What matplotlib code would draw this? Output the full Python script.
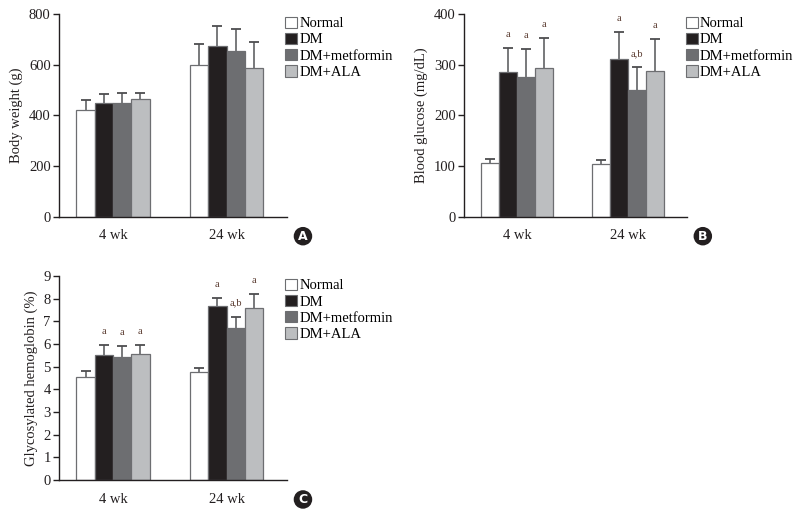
import numpy as np
import matplotlib.pyplot as plt
from matplotlib.patches import Patch

plt.rcParams['font.family'] = ['Liberation Serif', 'DejaVu Serif']

groups = ['4 wk', '24 wk']
series = ['Normal', 'DM', 'DM+metformin', 'DM+ALA']
colors = ['#ffffff', '#231f20', '#6d6e71', '#bcbec0']

# body weight (g)
bw_mean = [[420, 600], [450, 672], [450, 655], [463, 588]]
bw_err = [[40, 80], [35, 80], [38, 85], [24, 102]]

# blood glucose (mg/dL)
bg_mean = [[107, 105], [285, 312], [275, 251], [294, 288]]
bg_err = [[8, 7], [48, 52], [55, 44], [58, 62]]
bg_note = [['', ''], ['a', 'a'], ['a', 'a,b'], ['a', 'a']]

# glycosylated hemoglobin (%)
hb_mean = [[4.55, 4.78], [5.50, 7.68], [5.45, 6.70], [5.55, 7.57]]
hb_err = [[0.27, 0.16], [0.47, 0.35], [0.47, 0.50], [0.42, 0.65]]
hb_note = [['', ''], ['a', 'a'], ['a', 'a,b'], ['a', 'a']]

fig = plt.figure(figsize=(8, 5.14), dpi=100)

axA = fig.add_axes([0.07375, 0.578, 0.285, 0.395])
axB = fig.add_axes([0.58, 0.578, 0.279, 0.395])
axC = fig.add_axes([0.07375, 0.066, 0.285, 0.397])

w = 0.161
x = np.arange(len(groups))


def panel(ax, mean, err, note, ymax, ystep, ylabel, letter):
    for i in range(len(series)):
        pos = x - 1.5 * w + i * w
        top = np.array(mean[i]) + np.array(err[i])
        ax.bar(pos, mean[i], w, color=colors[i], edgecolor='#6d6e71',
               linewidth=0.9, zorder=2)
        ax.vlines(pos, mean[i], top, color='#6d6e71', linewidth=1.3, zorder=3)
        ax.plot(pos, top, ls='none', marker='_', ms=7, mew=1.3,
                color='#4d4d4f', zorder=3)
        if note is not None:
            for j in range(len(groups)):
                if note[i][j]:
                    ax.text(pos[j], top[j] + ymax * 0.045, note[i][j],
                            ha='center', va='bottom', fontsize=7.5,
                            color='#5a3b30')
    ticks = np.arange(0, ymax + ystep / 2, ystep)
    ax.set_xlim(-0.476, 1.533)
    ax.set_ylim(0, ymax)
    ax.set_yticks(ticks)
    ax.set_yticklabels(['%d' % v for v in ticks])
    ax.set_xticks(x)
    ax.set_xticklabels(groups)
    ax.tick_params(axis='x', length=0, pad=9, labelsize=10.5, colors='#231f20')
    ax.tick_params(axis='y', length=4, width=1, direction='out',
                   labelsize=10.5, colors='#231f20', pad=2)
    for s in ['top', 'right']:
        ax.spines[s].set_visible(False)
    for s in ['left', 'bottom']:
        ax.spines[s].set_color('#231f20')
        ax.spines[s].set_linewidth(1)
    ax.set_ylabel(ylabel, fontsize=10.5, color='#231f20', labelpad=4)
    handles = [Patch(facecolor=c, edgecolor='#6d6e71', linewidth=0.8)
               for c in colors]
    ax.legend(handles, series, loc='upper left', bbox_to_anchor=(0.955, 1.03),
              frameon=False, fontsize=10.5, handlelength=0.8,
              handleheight=0.8, handletextpad=0.15, labelspacing=0.18,
              borderaxespad=0.2)
    ax.text(1.07, -0.095, letter, transform=ax.transAxes, ha='center',
            va='center', fontsize=9, fontweight='bold', color='white',
            family='DejaVu Sans',
            bbox=dict(boxstyle='circle,pad=0.22', facecolor='#231f20',
                      edgecolor='none'))


panel(axA, bw_mean, bw_err, None, 800, 200, 'Body weight (g)', 'A')
panel(axB, bg_mean, bg_err, bg_note, 400, 100, 'Blood glucose (mg/dL)', 'B')
panel(axC, hb_mean, hb_err, hb_note, 9, 1, 'Glycosylated hemoglobin (%)', 'C')

plt.savefig('out.png', dpi=100)
